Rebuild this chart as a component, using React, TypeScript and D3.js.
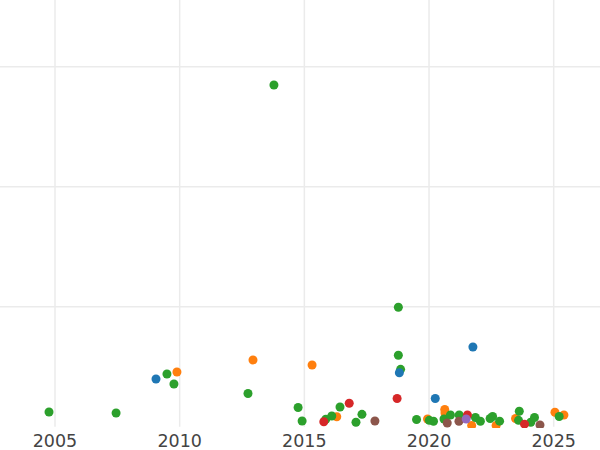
import React from "react";
import * as d3 from "d3";

const xTicks = [2005, 2010, 2015, 2020, 2025];
const yGrid = [100, 200, 300];

const seriesNames = ["orange", "green", "blue", "red", "brown", "purple"];
const seriesColors = ["#ff7f0e", "#2ca02c", "#1f77b4", "#d62728", "#8c564b", "#9467bd"];

const orangeX = [2009.89, 2012.94, 2015.31, 2016.3, 2019.94, 2020.63, 2020.64, 2021.71, 2022.69, 2023.47, 2025.05, 2025.41];
const orangeY = [45.6, 55.6, 51.4, 8.3, 6.4, 14.3, 11.4, 1.0, 1.0, 6.8, 12, 9.75];

const greenX = [2004.76, 2007.45, 2009.49, 2009.77, 2012.74, 2013.78, 2014.75, 2014.91, 2015.86, 2016.1, 2016.43, 2017.07, 2017.31, 2018.77, 2018.77, 2018.86, 2019.5, 2020.01, 2020.18, 2020.6, 2020.86, 2021.21, 2021.86, 2022.06, 2022.45, 2022.55, 2022.83, 2023.62, 2023.59, 2024.08, 2024.23, 2025.22];
const greenY = [12.25, 11.4, 43.9, 35.6, 27.7, 284.75, 16, 4.75, 6.2, 8.9, 16.4, 3.7, 10.3, 99.5, 59.5, 47.8, 6.0, 5.3, 4.5, 6.4, 9.75, 9.75, 7.7, 4.5, 6.8, 8.5, 4.6, 12.9, 5.3, 3.7, 7.7, 8.5];

const blueX = [2009.05, 2018.81, 2020.25, 2021.76];
const blueY = [39.75, 45, 23.5, 66.4];

const redX = [2015.78, 2016.8, 2018.72, 2021.54, 2023.83];
const redY = [4.1, 19.5, 23.5, 9.75, 2.1];

const brownX = [2017.83, 2020.73, 2021.2, 2024.45];
const brownY = [4.75, 3.1, 4.5, 1.4];

const purpleX = [2021.49];
const purpleY = [6.4];

const seriesX = [orangeX, greenX, blueX, redX, brownX, purpleX];
const seriesY = [orangeY, greenY, blueY, redY, brownY, purpleY];

export default function App() {
  const W = 600;
  const H = 450;
  const plotBottom = 428;
  const x = d3.scaleLinear().domain([2005, 2025]).range([55, 553.7]);
  const y = d3.scaleLinear().domain([0, 300]).range([426.7, 66.7]);

  return (
    <svg
      width={W}
      height={H}
      style={{ position: "absolute", left: 0, top: 0, background: "#fff" }}
    >
      <defs>
        <clipPath id="plotClip">
          <rect x={0} y={0} width={W} height={plotBottom} />
        </clipPath>
      </defs>
      <g>
        {xTicks.map((t) => (
          <line
            key={"gx" + t}
            x1={x(t)}
            x2={x(t)}
            y1={0}
            y2={426.7}
            stroke="#ebebeb"
            strokeWidth={1.5}
          />
        ))}
        {yGrid.map((t) => (
          <line
            key={"gy" + t}
            x1={0}
            x2={W}
            y1={y(t)}
            y2={y(t)}
            stroke="#ebebeb"
            strokeWidth={1.5}
          />
        ))}
      </g>
      <g clipPath="url(#plotClip)">
        {seriesNames.map((name, si) =>
          seriesX[si].map((xv, i) => (
            <circle
              key={name + i}
              cx={x(xv)}
              cy={y(seriesY[si][i])}
              r={4.5}
              fill={seriesColors[si]}
            />
          ))
        )}
      </g>
      <g>
        {xTicks.map((t) => (
          <text
            key={"tx" + t}
            x={x(t)}
            y={447}
            textAnchor="middle"
            fontFamily="DejaVu Sans"
            fontSize={17.5}
            fill="#444"
          >
            {t}
          </text>
        ))}
      </g>
    </svg>
  );
}
